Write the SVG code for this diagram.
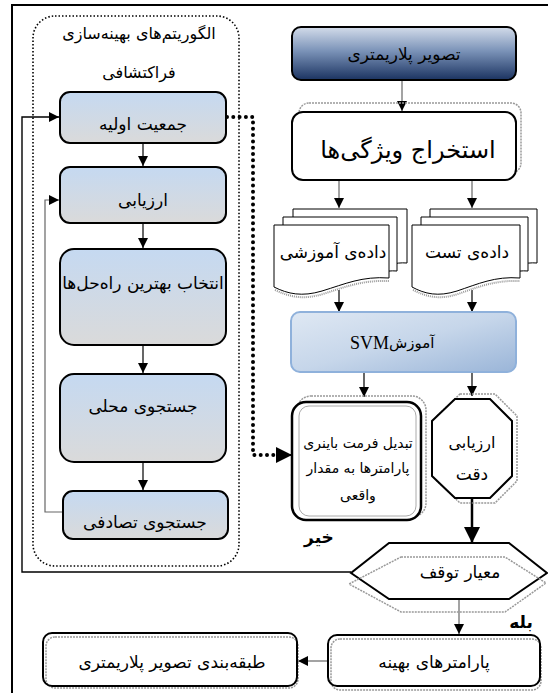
<svg xmlns="http://www.w3.org/2000/svg" width="548" height="693" viewBox="0 0 548 693">
<defs>
<linearGradient id="gBox" x1="0" y1="0" x2="0" y2="1"><stop offset="0" stop-color="#c5d9f1"/><stop offset="1" stop-color="#dadada"/></linearGradient>
<linearGradient id="gNavy" x1="0" y1="0" x2="0" y2="1"><stop offset="0" stop-color="#d3dcea"/><stop offset="0.45" stop-color="#7b93b8"/><stop offset="1" stop-color="#1b3361"/></linearGradient>
<linearGradient id="gSvm" x1="0" y1="0" x2="1" y2="1"><stop offset="0" stop-color="#dfe8f3"/><stop offset="0.5" stop-color="#c6d6ea"/><stop offset="1" stop-color="#9ab5d8"/></linearGradient>
<marker id="ah" viewBox="0 0 10 10" refX="10" refY="5" markerWidth="10" markerHeight="10" markerUnits="userSpaceOnUse" orient="auto"><path d="M0,0 L10,5 L0,10 Z" fill="#000"/></marker>
<marker id="ahBig" viewBox="0 0 10 10" refX="10" refY="5" markerWidth="16" markerHeight="17" markerUnits="userSpaceOnUse" orient="auto"><path d="M0,0 L10,5 L0,10 Z" fill="#000"/></marker>
</defs>
<style>
text{font-family:"DejaVu Sans","Noto Sans",sans-serif;fill:#000;text-anchor:middle}
.lbl{font-size:17px}
.sm{font-size:14px}
.big{font-size:24px}
.bold{font-size:17px;font-weight:bold}
.box{fill:url(#gBox);stroke:#000;stroke-width:2}
.wb{fill:#fff;stroke:#000;stroke-width:2}
.shadow{fill:none;stroke:#999;stroke-width:1.5;stroke-dasharray:2 1}
.ln{fill:none;stroke:#000;stroke-width:1.2}
.gl{fill:none;stroke:#666;stroke-width:1.2}
.doc{fill:#fff;stroke:#000;stroke-width:1}
</style>

<!-- frame -->
<path d="M12,693 V5 H548" fill="none" stroke="#000" stroke-width="2"/>

<!-- metaheuristic group -->
<g id="group-meta">
<rect x="33" y="16" width="206" height="550" rx="22" fill="none" stroke="#000" stroke-width="1.6" stroke-dasharray="1.5 2"/>
<text class="lbl" x="139" y="39" style="font-size:16px">الگوریتم‌های بهینه‌سازی</text>
<text class="lbl" x="139" y="78" style="font-size:16px">فراکتشافی</text>
</g>

<g id="connectors">
<path class="ln" d="M143,143 V166" marker-end="url(#ah)"/>
<path class="ln" d="M143,223 V248" marker-end="url(#ah)"/>
<path class="ln" d="M143,345 V373" marker-end="url(#ah)"/>
<path class="ln" d="M143,462 V490" marker-end="url(#ah)"/>
<path class="gl" d="M62,512 H45 V200 H59" marker-end="url(#ah)"/>
<path d="M351,572 H22 V117 H59" fill="none" stroke="#000" stroke-width="1.4" marker-end="url(#ah)"/>
<path d="M227,117 H253 V455 H280" fill="none" stroke="#000" stroke-width="4" stroke-linecap="round" stroke-dasharray="0 6.3"/>
<path d="M280,455 H292" fill="none" stroke="#000" stroke-width="2" marker-end="url(#ahBig)"/>
<path class="gl" d="M402,80 V111" marker-end="url(#ah)"/>
<path class="gl" d="M339,180 V208" marker-end="url(#ah)"/>
<path class="gl" d="M472,180 V208" marker-end="url(#ah)"/>
<path class="ln" d="M339,290 V312" marker-end="url(#ah)"/>
<path class="ln" d="M472,290 V312" marker-end="url(#ah)"/>
<path class="ln" d="M364,372 V397" marker-end="url(#ah)"/>
<path class="ln" d="M472,372 V396" marker-end="url(#ah)"/>
<path d="M472,498 V543" fill="none" stroke="#000" stroke-width="2.5" marker-end="url(#ahBig)"/>
<path class="gl" d="M459,599 V634" marker-end="url(#ah)"/>
<path class="gl" d="M327,661 H298" marker-end="url(#ah)"/>
</g>

<!-- left column boxes -->
<g id="n-init"><rect class="box" x="60" y="92" width="166" height="51" rx="10"/><text class="lbl" x="143" y="130">جمعیت اولیه</text></g>
<g id="n-eval"><rect class="box" x="60" y="167" width="166" height="56" rx="10"/><text class="lbl" x="143" y="206">ارزیابی</text></g>
<g id="n-select"><rect class="box" x="60" y="249" width="166" height="96" rx="14"/><text class="lbl" x="143" y="289">انتخاب بهترین راه‌حل‌ها</text></g>
<g id="n-local"><rect class="box" x="60" y="374" width="166" height="88" rx="14"/><text class="lbl" x="143" y="412">جستجوی محلی</text></g>
<g id="n-random"><rect class="box" x="63" y="491" width="165" height="48" rx="10"/><text class="lbl" x="145" y="528">جستجوی تصادفی</text></g>

<!-- right column -->
<g id="n-image"><rect x="292" y="27" width="224" height="53" rx="9" fill="url(#gNavy)" stroke="#000" stroke-width="2"/><text class="lbl" x="404" y="60">تصویر پلاریمتری</text></g>
<g id="n-feature"><rect class="shadow" x="299" y="103" width="222" height="70" rx="10"/><rect class="wb" x="292" y="112" width="224" height="68" rx="11"/><text class="big" x="408" y="158">استخراج ویژگی‌ها</text></g>

<g id="n-train-data">
<path class="doc" d="M293,209 H407 V263 C395,262 385,266 375,269 L293,269 Z"/>
<path class="doc" d="M283,217 H397 V271 C385,270 375,274 365,277 L283,277 Z"/>
<path d="M274,225 H389 V278 C362,276 345,284 322,291 C302,297 288,294 274,287 Z" fill="#fff" stroke="#000" stroke-width="1"/>
<path d="M275,290 C290,297 303,300 323,294 C345,287 362,280 389,281" fill="none" stroke="#999" stroke-width="2" stroke-dasharray="1 1"/>
<text class="lbl" x="333" y="258">داده‌ی آموزشی</text>
</g>
<g id="n-test-data">
<path class="doc" d="M430,209 H537 V263 C525,262 515,266 505,269 L430,269 Z"/>
<path class="doc" d="M421,217 H528 V271 C516,270 506,274 496,277 L421,277 Z"/>
<path d="M412,225 H520 V278 C495,276 478,284 457,291 C438,297 425,294 412,287 Z" fill="#fff" stroke="#000" stroke-width="1"/>
<path d="M413,290 C427,297 440,300 458,294 C478,287 495,280 520,281" fill="none" stroke="#999" stroke-width="2" stroke-dasharray="1 1"/>
<text class="lbl" x="467" y="258">داده‌ی تست</text>
</g>

<g id="n-svm"><rect x="291" y="312" width="225" height="60" rx="9" fill="url(#gSvm)" stroke="#8fb1db" stroke-width="2"/>
<text x="389" y="349" style="font-family:'Liberation Serif',serif;font-size:18px;text-anchor:end">SVM</text>
<text class="lbl" x="389" y="348" style="text-anchor:start;font-size:15px">آموزش</text></g>

<g id="n-convert"><rect class="shadow" x="297" y="396" width="129" height="121" rx="14"/><rect x="292" y="402" width="129" height="118" rx="14" fill="#fff" stroke="#000" stroke-width="2.5"/><rect x="299" y="406" width="117" height="110" rx="10" fill="none" stroke="#aaa" stroke-width="1"/>
<text class="sm" x="358" y="448">تبدیل فرمت باینری</text>
<text class="sm" x="358" y="473">پارامترها به مقدار</text>
<text class="sm" x="358" y="500">واقعی</text></g>

<g id="n-accuracy">
<polygon points="460,394 495,394 517,416 517,481 495,503 460,503 437,481 437,416" fill="none" stroke="#999" stroke-width="1.5" stroke-dasharray="2 1"/>
<polygon points="455,399 490,399 512,421 512,476 490,498 455,498 432,476 432,421" fill="#fff" stroke="#000" stroke-width="2"/>
<text class="lbl" x="472" y="448" style="font-size:16px">ارزیابی</text>
<text class="lbl" x="472" y="480">دقت</text></g>

<g id="n-stop">
<polygon points="389,543 509,543 547,573 509,599 389,599 351,573" fill="#fff" stroke="#000" stroke-width="2"/>
<polygon points="401,557 505,557 546,583 505,612 401,612 349,584" fill="none" stroke="#999" stroke-width="1.5" stroke-dasharray="2 1"/>
<text class="lbl" x="460" y="578">معیار توقف</text></g>

<text class="bold" x="319" y="543">خیر</text>
<text class="bold" x="521" y="628">بله</text>

<g id="n-optimal"><rect class="shadow" x="331" y="639" width="210" height="51" rx="9"/><rect x="328" y="635" width="212" height="51" rx="9" fill="none" stroke="#000" stroke-width="2"/><text class="lbl" x="434" y="668">پارامترهای بهینه</text></g>
<g id="n-classify"><rect class="shadow" x="46" y="637" width="252" height="51" rx="9"/><rect x="43" y="633" width="254" height="53" rx="9" fill="none" stroke="#000" stroke-width="2"/><text class="lbl" x="172" y="668">طبقه‌بندی تصویر پلاریمتری</text></g>
</svg>
